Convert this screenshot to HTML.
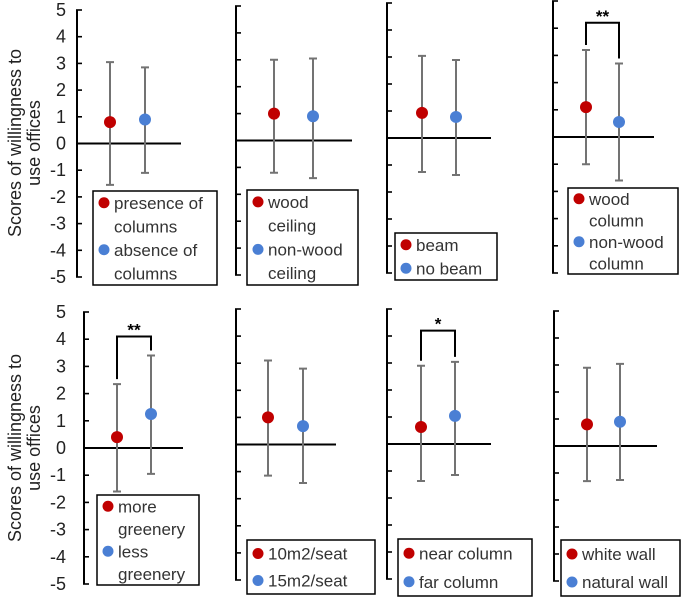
<!DOCTYPE html>
<html><head><meta charset="utf-8"><style>
html,body{margin:0;padding:0;background:#fff;}
svg{display:block;font-family:"Liberation Sans","DejaVu Sans",sans-serif;}
</style></head><body>
<svg id="chart" width="685" height="598" viewBox="0 0 685 598"></svg>
<script>
const panelNames = ["columns","ceiling","beam","wood-column","greenery","seat-area","column-distance","wall"];
const redValues = [0.8, 1.0, 0.93, 1.1, 0.4, 1.0, 0.63, 0.8];
const redHigh = [3.05, 3.0, 3.04, 3.2, 2.35, 3.1, 2.9, 2.9];
const redLow = [-1.55, -1.2, -1.26, -1.0, -1.6, -1.15, -1.37, -1.3];
const blueValues = [0.9, 0.9, 0.78, 0.55, 1.25, 0.68, 1.04, 0.9];
const blueHigh = [2.85, 3.05, 2.89, 2.7, 3.4, 2.8, 3.04, 3.04];
const blueLow = [-1.1, -1.4, -1.37, -1.6, -0.95, -1.42, -1.15, -1.26];
const significance = ["", "", "", "**", "**", "", "*", ""];
const legendLines = [
 [["presence of","columns"],["absence of","columns"]],
 [["wood","ceiling"],["non-wood","ceiling"]],
 [["beam"],["no beam"]],
 [["wood","column"],["non-wood","column"]],
 [["more","greenery"],["less","greenery"]],
 [["10m2/seat"],["15m2/seat"]],
 [["near column"],["far column"]],
 [["white wall"],["natural wall"]]
];
const yTicks = [5,4,3,2,1,0,-1,-2,-3,-4,-5];
// layout (not data)
const layout = [
 {ax:77,top:10,bot:277,rx:110,bx:145,end:181,lg:[93,191,124,94],brk:0},
 {ax:236,top:6,bot:275,rx:274,bx:313,end:352,lg:[247,190,111,95]},
 {ax:387,top:3,bot:273,rx:422,bx:456,end:491,lg:[395,233,102,47]},
 {ax:553,top:1,bot:273,rx:586,bx:619,end:654,lg:[568,188,110,86],brk:4.2},
 {ax:84,top:312,bot:584,rx:117,bx:151,end:183,lg:[97,495,102,90],brk:4.1},
 {ax:236,top:309,bot:580,rx:268,bx:303,end:336,lg:[247,540,128,54]},
 {ax:387,top:309,bot:579,rx:421,bx:455,end:491,lg:[398,539,134,57],brk:4.2},
 {ax:554,top:311,bot:581,rx:587,bx:620,end:657,lg:[561,540,119,56]}
];
const NS="http://www.w3.org/2000/svg";
const svg=document.getElementById('chart');
function mk(tag,attrs,parent){const e=document.createElementNS(NS,tag);for(const k in attrs)e.setAttribute(k,attrs[k]);(parent||svg).appendChild(e);return e;}
const RED="#c00000", BLUE="#4a7fd4", GRAY="#737373";
panelNames.forEach((name,i)=>{
 const L=layout[i];
 const y=v=>L.top+(5-v)*(L.bot-L.top)/10;
 const g=mk('g',{});
 
 
 const ax=mk('line',{x1:L.ax,y1:L.top,x2:L.ax,y2:L.bot,stroke:'#000','stroke-width':2},g);
 
 
 yTicks.forEach(t=>{
  const tk=mk('line',{x1:L.ax-1,y1:y(t),x2:L.ax+5,y2:y(t),stroke:'#000','stroke-width':1.6},g);
  
  
  if(i===0||i===4){
   const tl=mk('text',{x:66,y:y(t)+6,'text-anchor':'end','font-size':18,fill:'#222'},g);
   tl.textContent=t;
   
   
  }
 });
 const zl=mk('line',{x1:L.ax,y1:y(0),x2:L.end,y2:y(0),stroke:'#000','stroke-width':2},g);
 
 
 [[L.rx,redValues[i],redHigh[i],redLow[i],RED,'red'],[L.bx,blueValues[i],blueHigh[i],blueLow[i],BLUE,'blue']].forEach(s=>{
  const [x,v,hi,lo,col,nm]=s;
  const eb=mk('path',{d:`M${x},${y(hi)}V${y(lo)}M${x-4},${y(hi)}H${x+4}M${x-4},${y(lo)}H${x+4}`,stroke:GRAY,'stroke-width':2,fill:'none'},g);
  
  
  const c=mk('circle',{cx:x,cy:y(v),r:6,fill:col},g);
  
  
 });
 if(significance[i]){
  const bt=y(L.brk);
  const br=mk('path',{d:`M${L.rx},${y(redHigh[i])-5}V${bt}H${L.bx}V${y(blueHigh[i])-5}`,stroke:'#000','stroke-width':2,fill:'none'},g);
  
  
  const st=mk('text',{x:(L.rx+L.bx)/2,y:bt-1,'text-anchor':'middle','font-size':17,'font-weight':'bold',fill:'#000'},g);
  st.textContent=significance[i];
  
  
 }
 const [lx,ly,lw,lh]=L.lg;
 const lgG=mk('g',{},g);
 
 
 mk('rect',{x:lx,y:ly,width:lw,height:lh,fill:'#fff',stroke:'#000','stroke-width':1.5},lgG);
 const lines=legendLines[i];
 const total=lines[0].length+lines[1].length;
 const step=lh/total;
 let row=0;
 lines.forEach((ent,k)=>{
  const cy=ly+step*(row+0.5);
  const dot=mk('circle',{cx:lx+11,cy:cy,r:5.5,fill:k===0?RED:BLUE},lgG);
  
  
  ent.forEach(tx=>{
   const t=mk('text',{x:lx+21,y:ly+step*(row+0.5)+6,'font-size':17,fill:'#333'},lgG);
   t.textContent=tx;
   
   
   row++;
  });
 });
});
[143,448].forEach(cy=>{
 const t=mk('text',{transform:`translate(21,${cy}) rotate(-90)`,'text-anchor':'middle','font-size':18,fill:'#222'});
 const a=mk('tspan',{x:0,dy:0},t);a.textContent='Scores of willingness to';
 const b=mk('tspan',{x:0,dy:19},t);b.textContent='use offices';
 
 
});
</script>
</body></html>
